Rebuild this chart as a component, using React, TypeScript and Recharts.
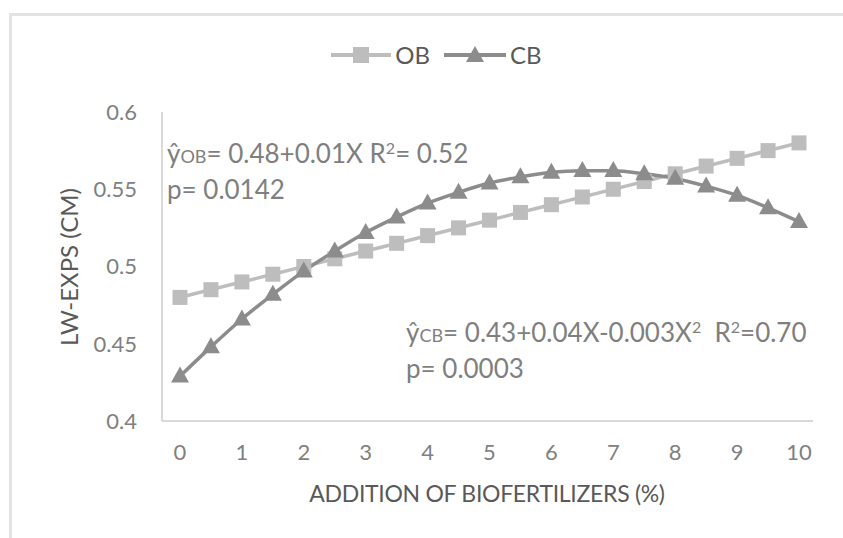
import React from "react";
import { LineChart, Line, XAxis, YAxis, Legend } from "recharts";

const xValues = [0, 0.5, 1, 1.5, 2, 2.5, 3, 3.5, 4, 4.5, 5, 5.5, 6, 6.5, 7, 7.5, 8, 8.5, 9, 9.5, 10];
const obValues = [0.48, 0.485, 0.49, 0.495, 0.5, 0.505, 0.51, 0.515, 0.52, 0.525, 0.53, 0.535, 0.54, 0.545, 0.55, 0.555, 0.56, 0.565, 0.57, 0.575, 0.58];
const cbValues = [0.429, 0.448, 0.466, 0.482, 0.497, 0.51, 0.522, 0.532, 0.541, 0.548, 0.554, 0.558, 0.561, 0.562, 0.562, 0.56, 0.557, 0.552, 0.546, 0.538, 0.529];
const xTicks = [0, 1, 2, 3, 4, 5, 6, 7, 8, 9, 10];
const yTicks = [0.4, 0.45, 0.5, 0.55, 0.6];
const seriesNames = ["OB", "CB"];

const data = xValues.map((x, i) => ({ x, OB: obValues[i], CB: cbValues[i] }));

const OB_COLOR = "#bdbdbd";
const CB_COLOR = "#8c8c8c";
const FONT = "Lato, 'Open Sans', sans-serif";

const SquareDot = (props: any) => {
  const { cx, cy } = props;
  if (cx == null || cy == null) return null;
  const s = 15;
  return <rect x={cx - s / 2} y={cy - s / 2} width={s} height={s} fill={OB_COLOR} />;
};

const TriangleDot = (props: any) => {
  const { cx, cy } = props;
  if (cx == null || cy == null) return null;
  const w = 18;
  const h = 16;
  return (
    <path
      d={`M${cx},${cy - h * 0.6} L${cx + w / 2},${cy + h * 0.4} L${cx - w / 2},${cy + h * 0.4} Z`}
      fill={CB_COLOR}
    />
  );
};

const LegendContent = () => (
  <div style={{ display: "flex", justifyContent: "center", alignItems: "center", fontFamily: FONT, fontSize: 24, color: "#595959", paddingLeft: 30 }}>
    <svg width={60} height={22} style={{ marginRight: 4 }}>
      <line x1={0} y1={11} x2={60} y2={11} stroke={OB_COLOR} strokeWidth={4} />
      <rect x={22} y={3} width={16} height={16} fill={OB_COLOR} />
    </svg>
    <span style={{ marginRight: 14 }}>{seriesNames[0]}</span>
    <svg width={62} height={22} style={{ marginRight: 4 }}>
      <line x1={0} y1={11} x2={62} y2={11} stroke={CB_COLOR} strokeWidth={4} />
      <path d="M31,2 L40,18 L22,18 Z" fill={CB_COLOR} />
    </svg>
    <span>{seriesNames[1]}</span>
  </div>
);

const annStyle: React.CSSProperties = {
  position: "absolute",
  fontFamily: FONT,
  fontSize: 26,
  color: "#7f7f7f",
  whiteSpace: "pre",
  lineHeight: "33px",
};

const subStyle: React.CSSProperties = { fontSize: 18 };
const supStyle: React.CSSProperties = { fontSize: 16, lineHeight: 0, verticalAlign: "0.55em" };

export default function App() {
  return (
    <div style={{ position: "absolute", left: 0, top: 0, width: 843, height: 538, background: "#fff", overflow: "hidden" }}>
      <div style={{ position: "absolute", left: 9, top: 13, width: 900, height: 600, border: "3px solid #e3e3e3", boxSizing: "border-box" }} />
      <div style={{ position: "absolute", left: 0, top: 0 }}>
        <LineChart width={843} height={538} data={data} margin={{ top: 112, right: 30, bottom: 77, left: 102 }}>
          <XAxis
            dataKey="x"
            type="number"
            domain={[0, 10]}
            ticks={xTicks}
            padding={{ left: 18, right: 14 }}
            axisLine={{ stroke: "#d9d9d9", strokeWidth: 2 }}
            tickLine={false}
            tickSize={0}
            tickMargin={23}
            height={40}
            tick={{ fill: "#808080", fontSize: 22, fontFamily: FONT }}
          />
          <YAxis
            type="number"
            domain={[0.4, 0.6]}
            ticks={yTicks}
            width={60}
            axisLine={{ stroke: "#d9d9d9", strokeWidth: 2 }}
            tickLine={false}
            tickSize={0}
            tickMargin={25}
            tick={{ fill: "#808080", fontSize: 22, fontFamily: FONT }}
          />
          <Legend
            layout="horizontal"
            verticalAlign="middle"
            align="center"
            content={<LegendContent />}
            wrapperStyle={{ top: 40, left: 0, width: 843 }}
          />
          <Line
            type="monotone"
            dataKey="OB"
            stroke={OB_COLOR}
            strokeWidth={3.5}
            dot={<SquareDot />}
            isAnimationActive={false}
          />
          <Line
            type="monotone"
            dataKey="CB"
            stroke={CB_COLOR}
            strokeWidth={3.5}
            dot={<TriangleDot />}
            isAnimationActive={false}
          />
        </LineChart>
      </div>
      <div style={{ ...annStyle, left: 167, top: 137 }}>
        ŷ<span style={subStyle}>OB</span>{"= 0.48+0.01X R"}<span style={supStyle}>2</span>{"= 0.52"}
        <br />{"p= 0.0142"}
      </div>
      <div style={{ ...annStyle, left: 406, top: 316 }}>
        ŷ<span style={subStyle}>CB</span>{"= 0.43+0.04X-0.003X"}<span style={supStyle}>2</span>{"  R"}<span style={supStyle}>2</span>{"=0.70"}
        <br />{"p= 0.0003"}
      </div>
      <div
        style={{
          position: "absolute",
          left: 68,
          top: 267,
          transform: "translate(-50%, -50%) rotate(-90deg)",
          fontFamily: FONT,
          fontSize: 24,
          color: "#595959",
          whiteSpace: "nowrap",
        }}
      >
        LW-EXPS (CM)
      </div>
      <div
        style={{
          position: "absolute",
          left: 487,
          top: 493,
          transform: "translate(-50%, -50%)",
          fontFamily: FONT,
          fontSize: 23,
          color: "#595959",
          whiteSpace: "nowrap",
          letterSpacing: -0.3,
        }}
      >
        ADDITION OF BIOFERTILIZERS (%)
      </div>
    </div>
  );
}
